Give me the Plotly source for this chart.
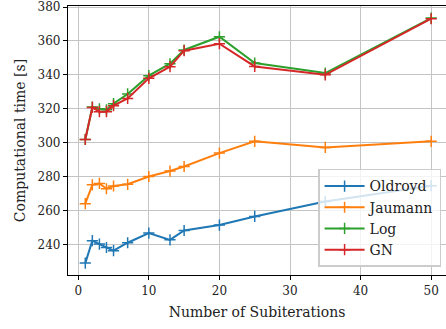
import plotly.graph_objects as go

# Number of subiterations per time step
subiterations = [1, 2, 3, 4, 5, 7, 10, 13, 15, 20, 25, 35, 50]

# Computational time [s] for each stress rate formulation
oldroyd = [229.2, 242.4, 240.4, 238.4, 236.5, 241.2, 246.9, 242.9, 248.4, 251.6, 256.7, 265.5, 274.8]
jaumann = [264.2, 275.3, 276.1, 273.0, 274.6, 275.6, 280.2, 283.4, 286.1, 294.0, 300.9, 297.3, 300.9]
log_rate = [302.0, 321.1, 320.1, 319.5, 323.1, 328.8, 339.6, 346.6, 354.7, 362.5, 347.0, 341.1, 373.5]
gn = [302.0, 320.9, 318.4, 318.4, 321.9, 326.2, 338.0, 344.9, 354.3, 358.4, 345.0, 340.1, 373.1]

series = [
    ("Oldroyd", oldroyd, "#1f77b4"),
    ("Jaumann", jaumann, "#ff7f0e"),
    ("Log", log_rate, "#2ca02c"),
    ("GN", gn, "#d62728"),
]

FONT = "DejaVu Serif"

fig = go.Figure()
for name, values, color in series:
    fig.add_trace(go.Scatter(
        x=subiterations, y=values, name=name, mode="lines+markers",
        line=dict(color=color, width=2),
        marker=dict(symbol="cross-thin", size=8, color=color,
                    line=dict(color=color, width=1.5)),
    ))

axis_common = dict(
    showgrid=True, gridcolor="#c4c4c4", gridwidth=1,
    zeroline=False, ticks="outside", ticklen=4, tickcolor="black",
    tickfont=dict(family=FONT, size=12, color="#222"),
    ticklabeloverflow="allow",
    showline=True, linecolor="black", linewidth=1.2,
)

fig.update_layout(
    width=446, height=329,
    margin=dict(l=68, r=0, t=6, b=54),
    paper_bgcolor="white", plot_bgcolor="white",
    font=dict(family=FONT, size=12, color="#222"),
    xaxis=dict(range=[-1.45, 52.1], tickvals=[0, 10, 20, 30, 40, 50],
               mirror=True,
               title=dict(text="Number of Subiterations", font=dict(family=FONT, size=14), standoff=10),
               **axis_common),
    yaxis=dict(range=[222.2, 380.6], tickvals=[240, 260, 280, 300, 320, 340, 360, 380],
               title=dict(text="Computational time [s]", font=dict(family=FONT, size=14), standoff=8),
               **axis_common),
    legend=dict(x=0.987, y=0.03, xanchor="right", yanchor="bottom",
                bgcolor="rgba(255,255,255,0.8)", bordercolor="#cccccc", borderwidth=1.5,
                font=dict(family=FONT, size=14, color="#222"),
                itemwidth=40, tracegroupgap=2),
    showlegend=True,
)

fig.write_html("out.html")
